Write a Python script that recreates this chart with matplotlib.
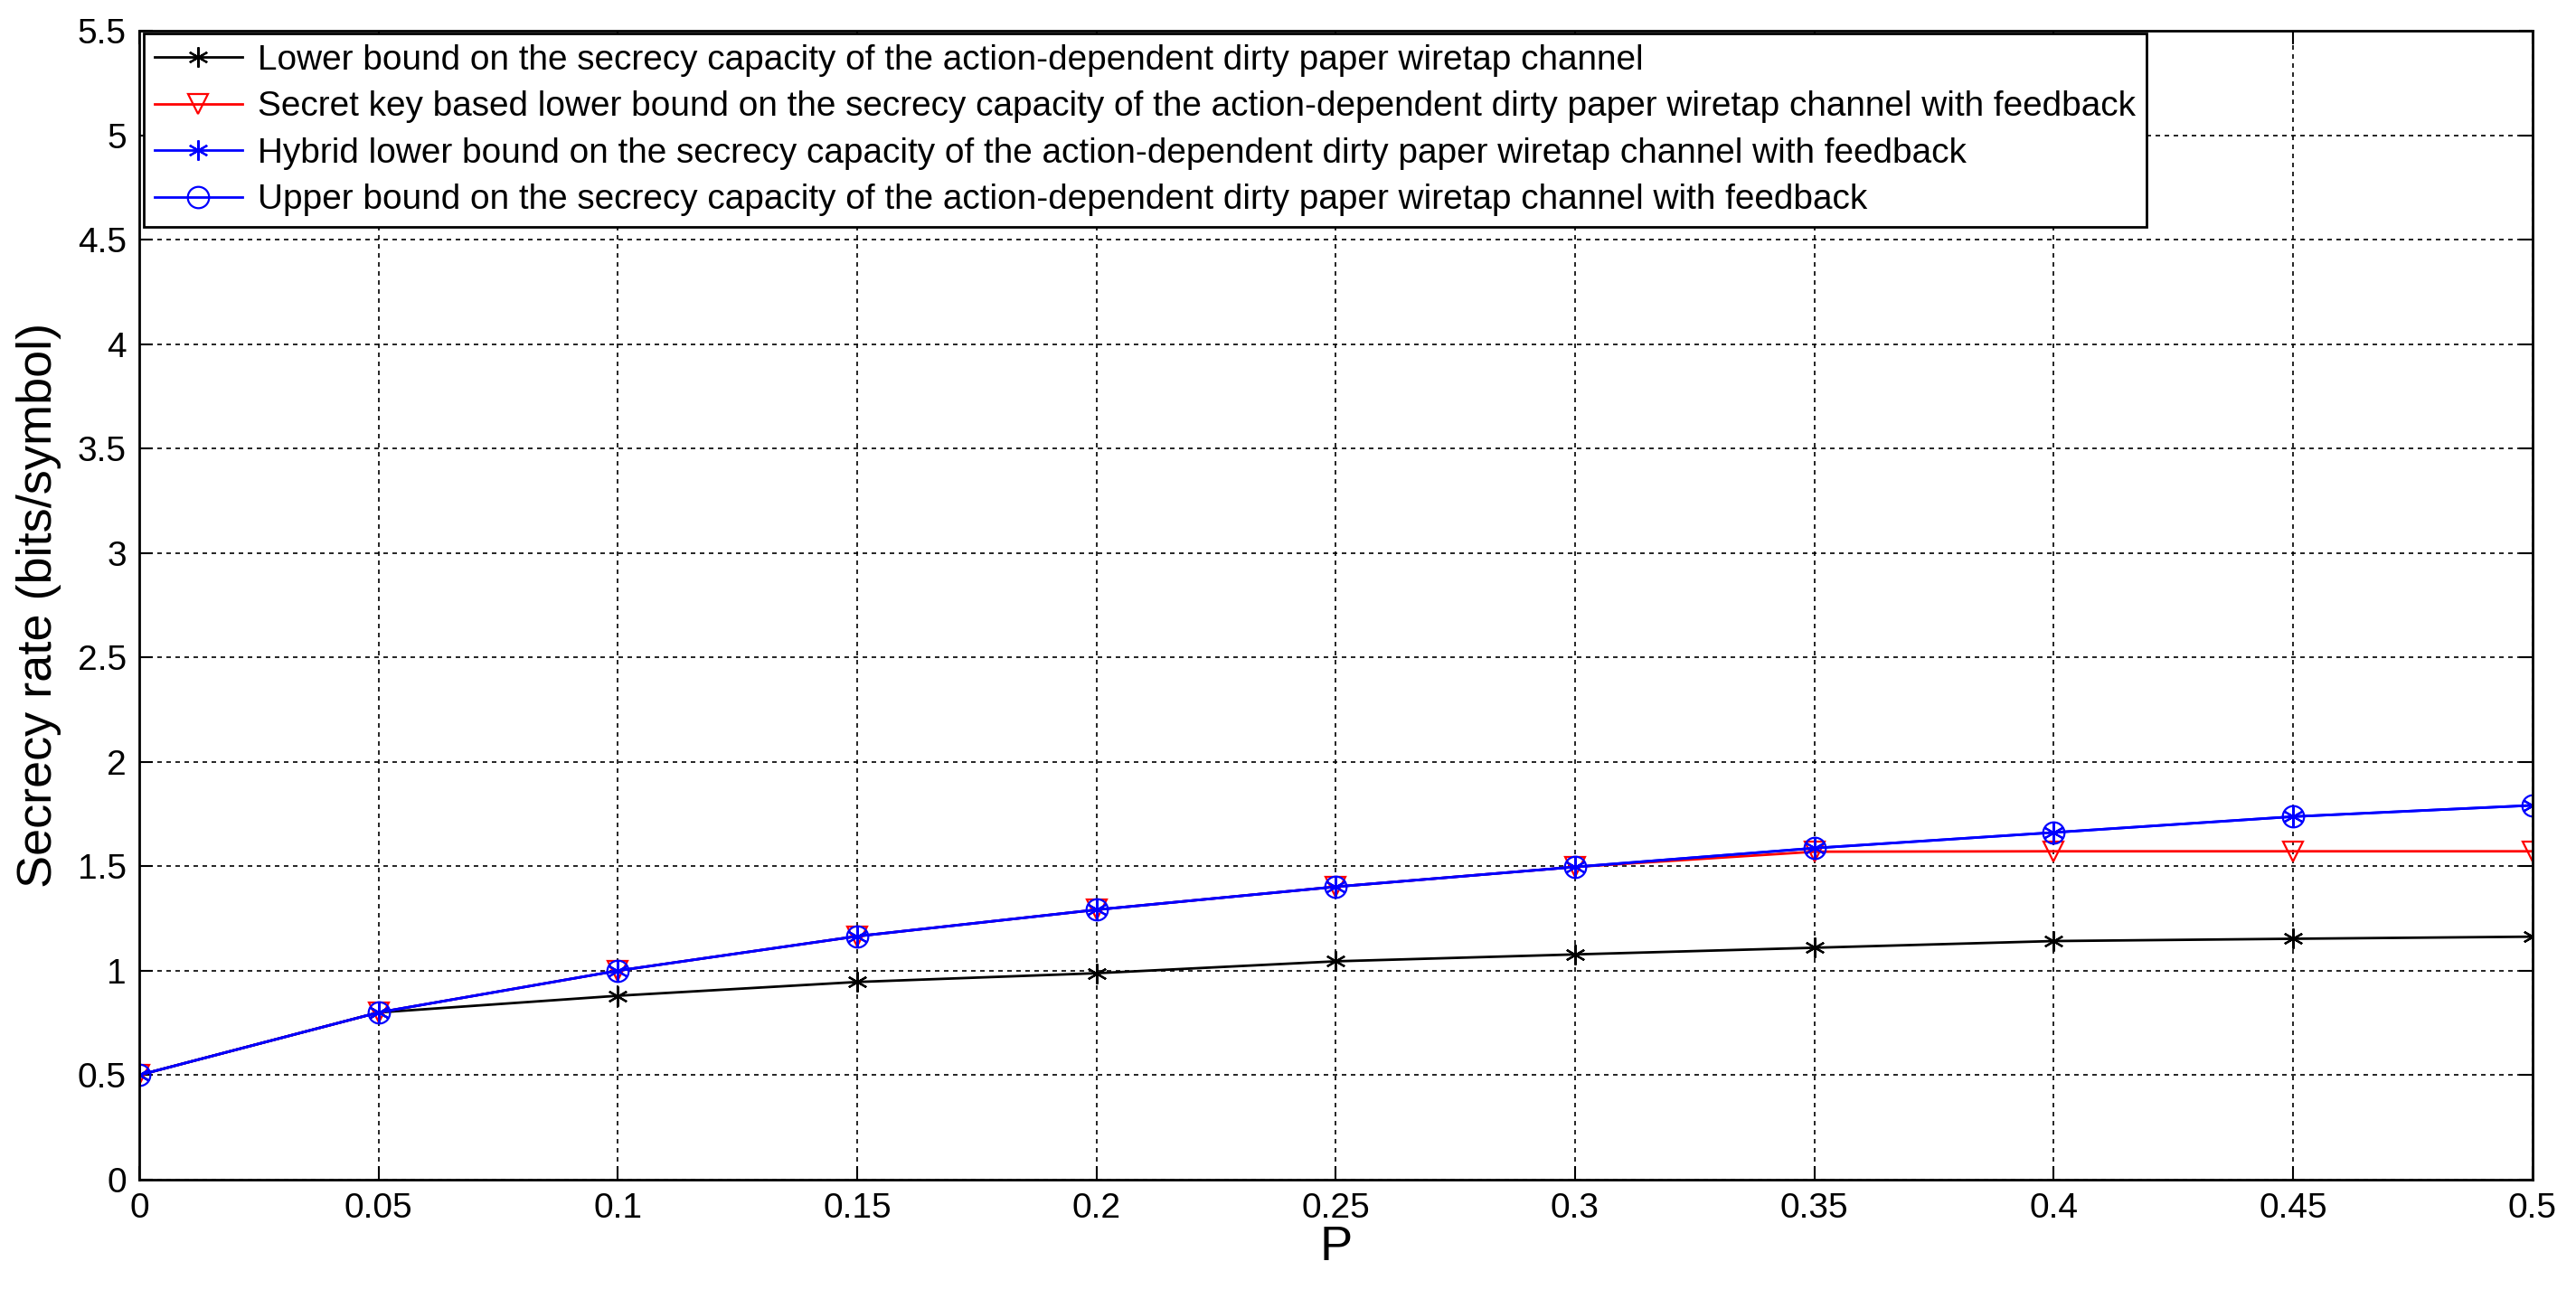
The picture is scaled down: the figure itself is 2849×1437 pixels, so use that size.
import numpy as np
import matplotlib
matplotlib.use("Agg")
import matplotlib.pyplot as plt

# values
P = [0, 0.05, 0.1, 0.15, 0.2, 0.25, 0.3, 0.35, 0.4, 0.45, 0.5]
lower_bound = [0.50, 0.80, 0.88, 0.946, 0.988, 1.045, 1.078, 1.110, 1.142, 1.153, 1.163]
key_bound = [0.50, 0.80, 1.00, 1.165, 1.292, 1.402, 1.497, 1.570, 1.572, 1.572, 1.572]
hybrid_bound = [0.50, 0.80, 1.00, 1.165, 1.292, 1.402, 1.497, 1.587, 1.662, 1.738, 1.792]
upper_bound = [0.50, 0.80, 1.00, 1.165, 1.292, 1.402, 1.497, 1.587, 1.662, 1.738, 1.792]

labels = [
    "Lower bound on the secrecy capacity of the action-dependent dirty paper wiretap channel",
    "Secret key based lower bound on the secrecy capacity of the action-dependent dirty paper wiretap channel with feedback",
    "Hybrid lower bound on the secrecy capacity of the action-dependent dirty paper wiretap channel with feedback",
    "Upper bound on the secrecy capacity of the action-dependent dirty paper wiretap channel with feedback",
]
xticks = [0, 0.05, 0.1, 0.15, 0.2, 0.25, 0.3, 0.35, 0.4, 0.45, 0.5]
yticks = [0, 0.5, 1, 1.5, 2, 2.5, 3, 3.5, 4, 4.5, 5, 5.5]

narrow = ['Liberation Sans Narrow', 'Liberation Sans', 'DejaVu Sans']
plain = ['Liberation Sans', 'DejaVu Sans']
plt.rcParams['font.family'] = narrow

asterisk = (6, 2, 0)

fig = plt.figure(figsize=(28.49, 14.37), dpi=100)
ax = fig.add_axes([0.054, 0.092, 0.929, 0.884])

ax.plot(P, lower_bound, color='black', lw=2, marker=asterisk, ms=16, mew=1.6, label=labels[0])
ax.plot(P, key_bound, color='red', lw=2, marker='v', ms=16, mfc='none', mew=1.6, label=labels[1])
ax.plot(P, hybrid_bound, color='blue', lw=2, marker=asterisk, ms=16, mew=1.6, label=labels[2])
ax.plot(P, upper_bound, color='blue', lw=2, marker='o', ms=17, mfc='none', mew=1.6, label=labels[3])

ax.set_xlim(0, 0.5)
ax.set_ylim(0, 5.5)
ax.set_xticks(xticks)
ax.set_xticklabels([f"{v:g}" for v in xticks])
ax.set_yticks(yticks)
ax.set_yticklabels([f"{v:g}" for v in yticks])
ax.tick_params(direction='in', length=11, width=1.5, top=True, right=True, labelsize=28, pad=10)
for lab in ax.get_xticklabels() + ax.get_yticklabels():
    lab.set_family(narrow)

ax.grid(True, color='black', linestyle=(0, (3, 3)), linewidth=1.2)
for sp in ax.spines.values():
    sp.set_linewidth(2)

ax.set_xlabel("P", fontsize=39, family=plain, labelpad=0)
ax.set_ylabel("Secrecy rate (bits/symbol)", fontsize=39, family=plain, labelpad=13)

leg = ax.legend(loc='upper left', bbox_to_anchor=(0.002, 0.998), borderaxespad=0,
                handlelength=2.5, handletextpad=0.45, numpoints=1,
                fancybox=False, framealpha=1, edgecolor='black', labelspacing=0.4,
                borderpad=0.3, prop={'family': narrow, 'size': 27.9})
leg.get_frame().set_linewidth(2)

fig.savefig("out.png", dpi=100)
